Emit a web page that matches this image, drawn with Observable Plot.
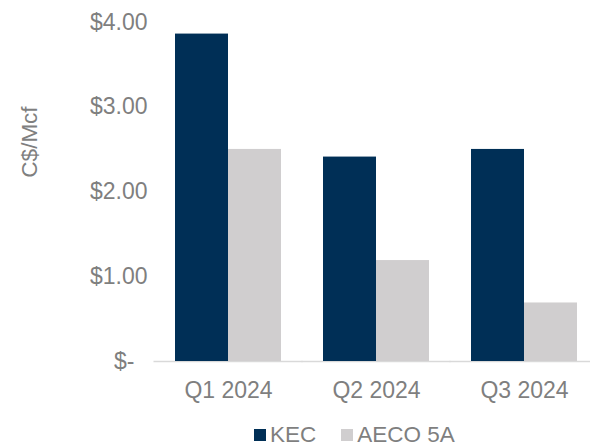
<!DOCTYPE html>
<html>
<head>
<meta charset="utf-8">
<script src="https://cdn.jsdelivr.net/npm/d3@7"></script>
<script src="https://cdn.jsdelivr.net/npm/@observablehq/plot@0.6"></script>
<style>
  html, body { margin: 0; padding: 0; background: white; }
  #wrap { position: relative; width: 590px; height: 446px; overflow: hidden; font-family: "Liberation Sans", Arial, sans-serif; color: #7f7f7f; }
  #ytitle { position: absolute; left: 30px; top: 142px; transform: translate(-50%, -50%) rotate(-90deg); font-size: 22.5px; white-space: nowrap; }
  #legend { position: absolute; left: 254px; top: 421px; height: 28px; display: flex; align-items: center; font-size: 22.5px; white-space: nowrap; }
  .sw { display: inline-block; width: 12px; height: 12px; margin-right: 4px; }
  .item { display: flex; align-items: center; margin-right: 25px; }
</style>
</head>
<body>
<div id="wrap">
  <div id="chart"></div>
  <div id="ytitle"></div>
  <div id="legend"></div>
</div>
<script>
const quarters = ["Q1 2024", "Q2 2024", "Q3 2024"];
const series = ["KEC", "AECO 5A"];
const kec = [3.86, 2.41, 2.50];
const aeco = [2.50, 1.19, 0.69];
const yTicks = [1, 2, 3, 4];
const yTickLabels = ["$1.00", "$2.00", "$3.00", "$4.00"];
const yZeroTick = [0];
const yZeroLabel = "$-";
const colors = ["#002F56", "#D0CECF"];
const yTitle = "C$/Mcf";

const data = quarters.flatMap((q, i) => [
  {quarter: q, series: series[0], value: kec[i]},
  {quarter: q, series: series[1], value: aeco[i]}
]);

const H = 418;
const plot = Plot.plot({
  width: 590,
  height: H,
  marginLeft: 153,
  marginRight: -9,
  marginTop: 21.7,
  marginBottom: H - 361,
  style: {fontFamily: "'Liberation Sans', Arial, sans-serif", fontSize: "23px", color: "#7f7f7f", background: "white", overflow: "visible"},
  fx: {domain: quarters, paddingInner: 0.2865, paddingOuter: 0.143, label: null},
  x: {domain: series, padding: 0, axis: null},
  y: {domain: [0, 4], axis: null},
  color: {domain: series, range: colors},
  marks: [
    Plot.ruleY([0], {stroke: "#d9d9d9", strokeWidth: 1.3, insetLeft: -21.5, insetRight: -21.5}),
    Plot.barY(data, {fx: "quarter", x: "series", y: "value", fill: "series"}),
    Plot.axisY(yTicks, {tickSize: 0, tickPadding: 28, tickFormat: d => yTickLabels[yTicks.indexOf(d)], label: null, fontSize: 23}),
    Plot.axisY(yZeroTick, {tickSize: 0, tickPadding: 28, dx: -13, tickFormat: () => yZeroLabel, label: null, fontSize: 23}),
    Plot.axisFx({anchor: "bottom", tickSize: 0, tickPadding: 20, label: null, fontSize: 23})
  ]
});
document.getElementById("chart").appendChild(plot);
document.getElementById("ytitle").textContent = yTitle;

const legend = document.getElementById("legend");
series.forEach((s, i) => {
  const item = document.createElement("span");
  item.className = "item";
  const sw = document.createElement("span");
  sw.className = "sw";
  sw.style.background = colors[i];
  item.appendChild(sw);
  item.appendChild(document.createTextNode(s));
  legend.appendChild(item);
});
</script>
</body>
</html>
